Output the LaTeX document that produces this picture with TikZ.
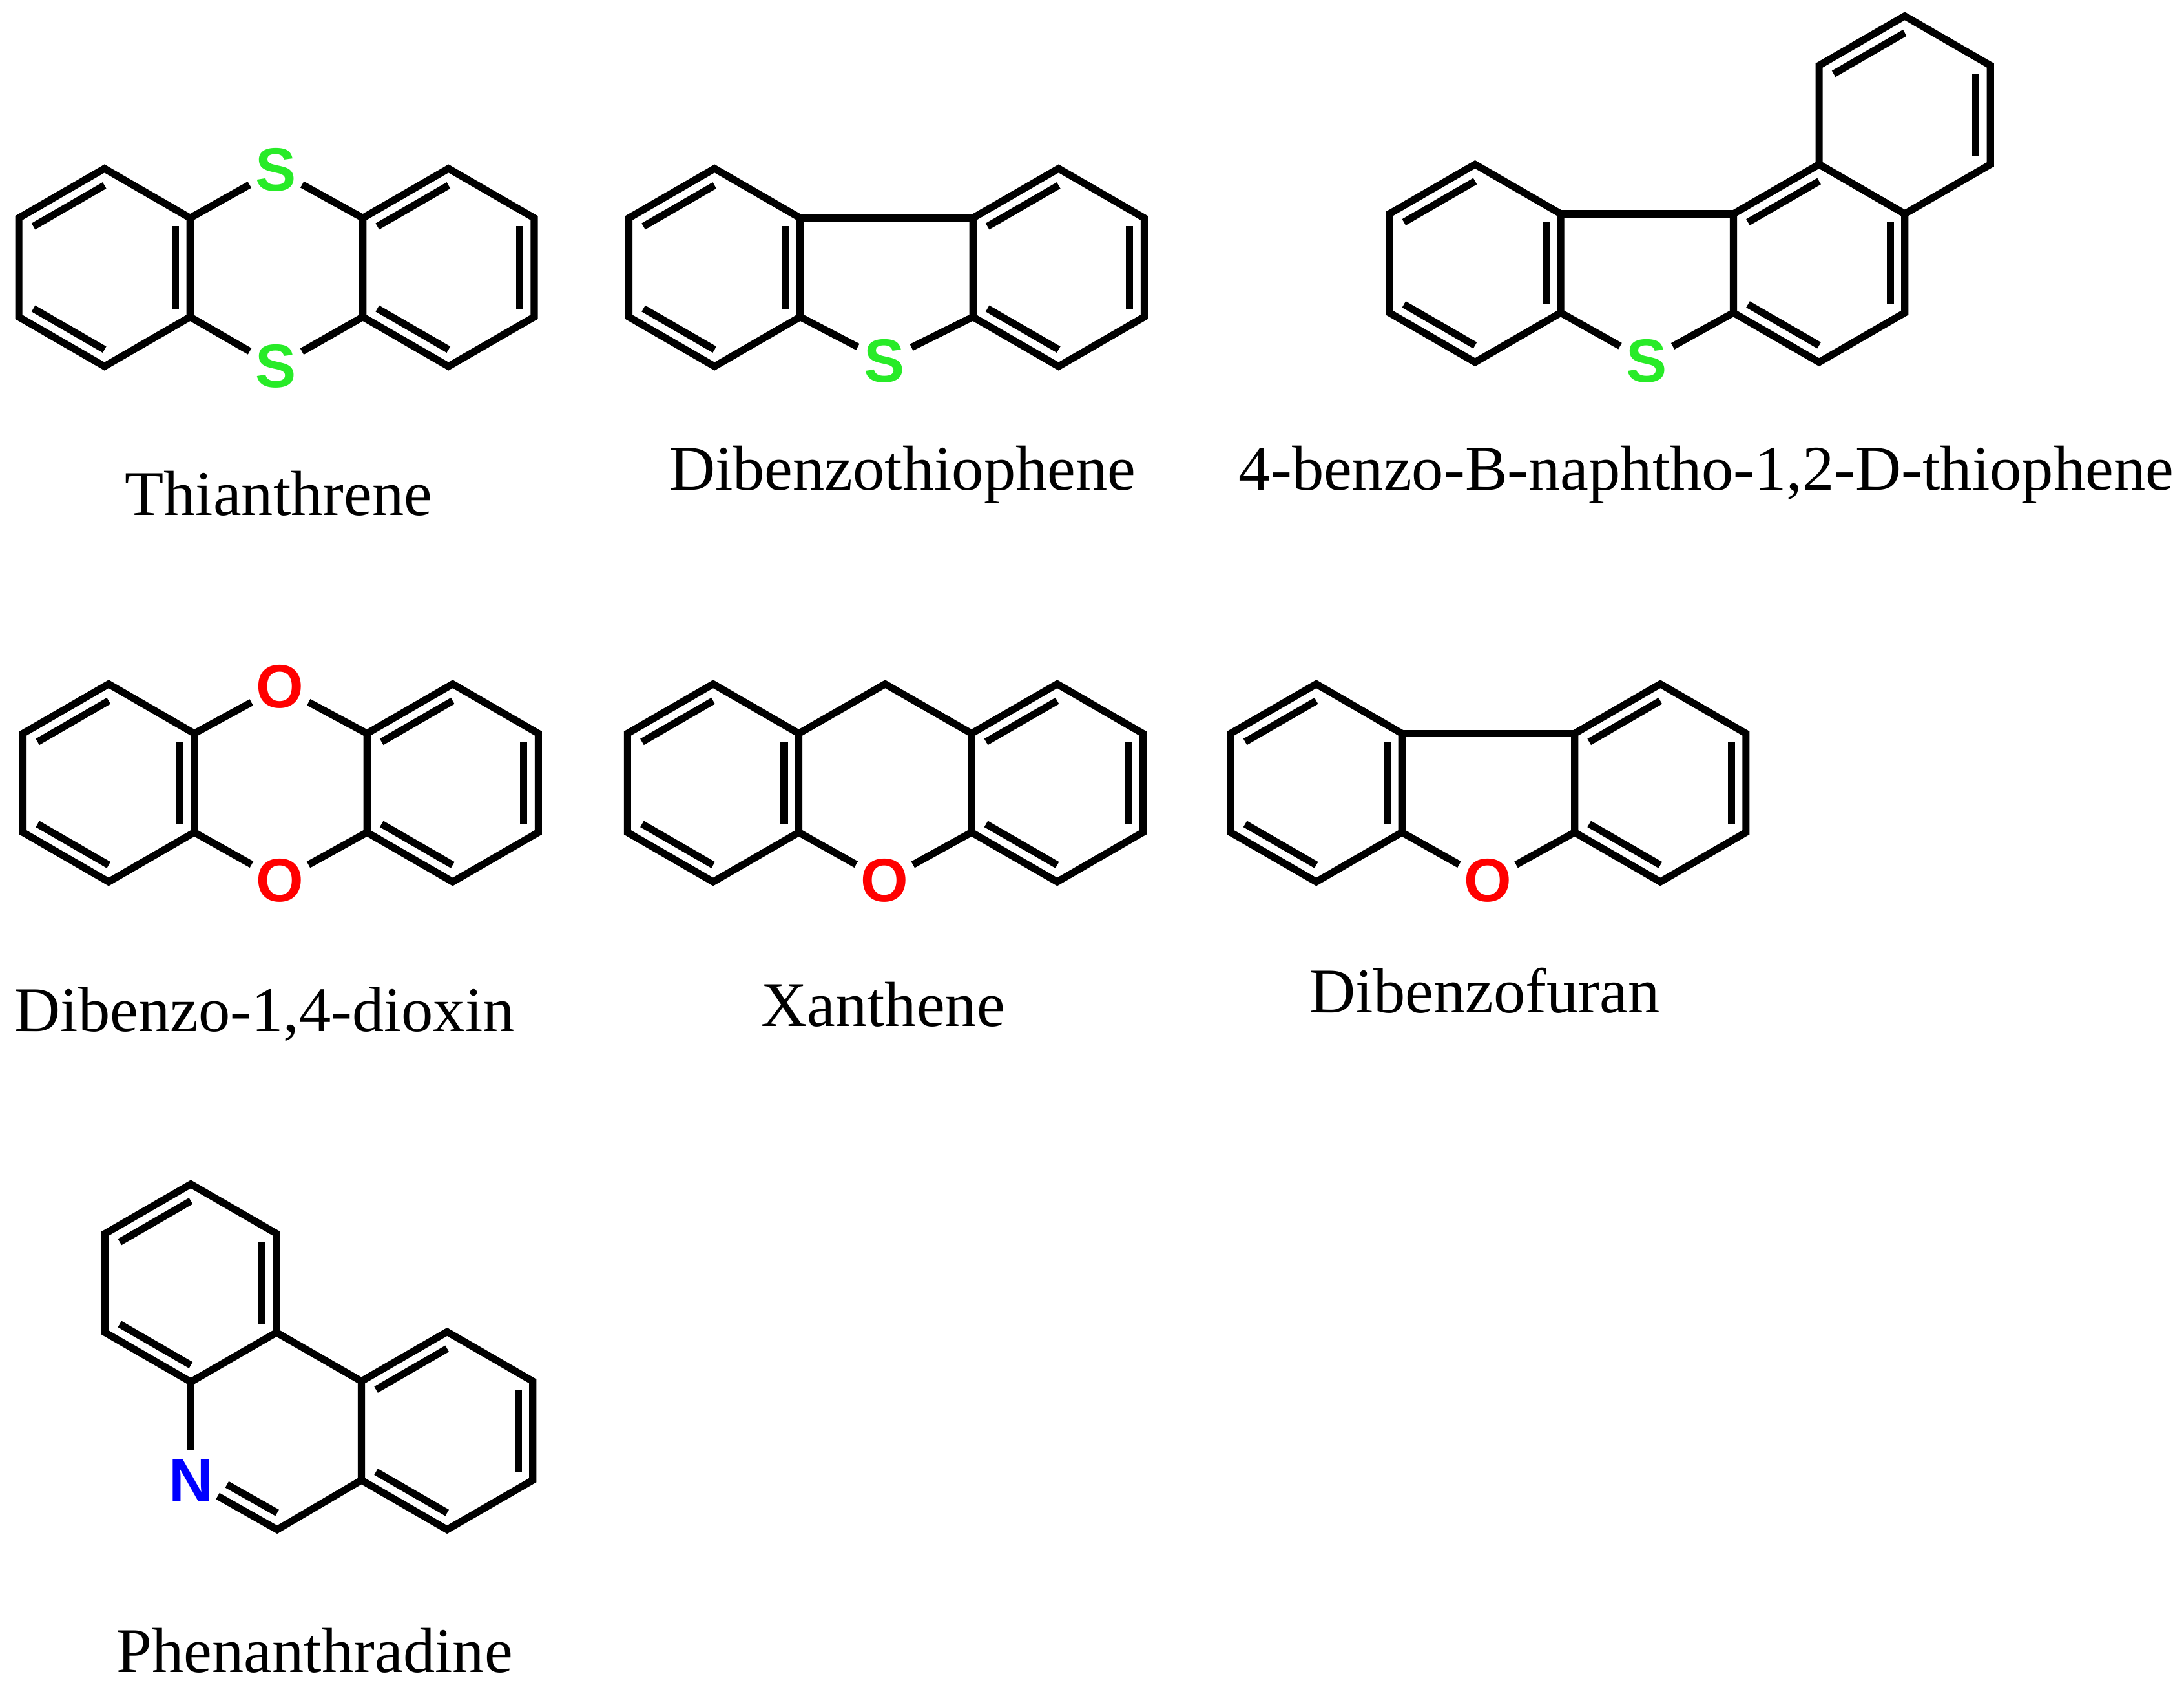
\documentclass[tikz,border=0pt]{standalone}
\usepackage{fontspec}
\setmainfont{Liberation Serif}
\newfontfamily\atomfont{Liberation Sans}
\usetikzlibrary{calc}
\definecolor{sgreen}{RGB}{40,235,40}
\tikzset{
  bond/.style={line width=2.95pt},
  atom/.style={circle,inner sep=0pt,minimum size=0.8cm,font=\atomfont\bfseries\fontsize{25}{25}\selectfont},
  lab/.style={font=\fontsize{26}{30}\selectfont,inner sep=0pt}
}
\newcommand\hring[3]{%
  \coordinate (#1) at (#2,#3);
  \coordinate (#1t) at ({#2},{#3-71});
  \coordinate (#1ur) at ({#2+61.5},{#3-35.5});
  \coordinate (#1lr) at ({#2+61.5},{#3+35.5});
  \coordinate (#1b) at ({#2},{#3+71});
  \coordinate (#1ll) at ({#2-61.5},{#3+35.5});
  \coordinate (#1ul) at ({#2-61.5},{#3-35.5});}
\newcommand\dbl[3]{\draw[bond] ($(#1#2)!0.17!(#1)$) -- ($(#1#3)!0.17!(#1)$);}
\newcommand\hexa[1]{\draw[bond] (#1t)--(#1ur)--(#1lr)--(#1b)--(#1ll)--(#1ul)--cycle;}
\newcommand\benz[1]{\hexa{#1}\dbl{#1}{ul}{t}\dbl{#1}{ur}{lr}\dbl{#1}{ll}{b}}
\begin{document}
\begin{tikzpicture}[x=0.02cm,y=-0.02cm]
\useasboundingbox (0,0) rectangle (1568,1208);
% Thianthrene
\hring{a}{75}{192}\hring{c}{322}{192}
\benz{a}\benz{c}
\node[atom,text=sgreen] (s1) at (198,122) {S};
\node[atom,text=sgreen] (s2) at (198,263) {S};
\draw[bond] (aur)--(s1)--(cul); \draw[bond] (alr)--(s2)--(cll);
\node[lab] (l1) at (200,354) {Thianthrene};
% Dibenzothiophene
\hring{d}{513}{192}\hring{e}{760}{192}
\benz{d}\benz{e}
\node[atom,text=sgreen] (s3) at (635,259) {S};
\draw[bond] (dlr)--(s3)--(ell); \draw[bond] (dur)--(eul);
\node[lab] (l2) at (648,341) {Dibenzothiophene};
% 4-benzo-B-naphtho
\hring{f}{1059}{189}\hring{g}{1306}{189}\hring{h}{1367.5}{82.5}
\benz{f}\benz{g}
\hexa{h}\dbl{h}{ul}{t}\dbl{h}{ur}{lr}
\node[atom,text=sgreen] (s4) at (1182,259) {S};
\draw[bond] (flr)--(s4)--(gll); \draw[bond] (fur)--(gul);
\node[lab] (l3) at (1225,341) {4-benzo-B-naphtho-1,2-D-thiophene};
% Dibenzo-1,4-dioxin
\hring{i}{78}{562}\hring{j}{325}{562}
\benz{i}\benz{j}
\node[atom,text=red] (o1) at (201,493) {O};
\node[atom,text=red] (o2) at (201,632) {O};
\draw[bond] (iur)--(o1)--(jul); \draw[bond] (ilr)--(o2)--(jll);
\node[lab] (l4) at (190,728) {Dibenzo-1,4-dioxin};
% Xanthene
\hring{k}{512}{562}\hring{m}{759}{562}
\benz{k}\benz{m}
\coordinate (ch2) at (635.5,491);
\node[atom,text=red] (o3) at (635,632) {O};
\draw[bond] (kur)--(ch2)--(mul); \draw[bond] (klr)--(o3)--(mll);
\node[lab] (l5) at (634,721) {Xanthene};
% Dibenzofuran
\hring{n}{945}{562}\hring{p}{1192}{562}
\benz{n}\benz{p}
\node[atom,text=red] (o4) at (1068,632) {O};
\draw[bond] (nlr)--(o4)--(pll); \draw[bond] (nur)--(pul);
\node[lab] (l6) at (1066,711) {Dibenzofuran};
% Phenanthridine
\hring{q}{137}{921}\hring{r}{321}{1027}
\benz{q}\benz{r}
\coordinate (mid) at (199,1027);
\coordinate (ch) at (199,1098);
\node[atom,text=blue] (n1) at (137,1063) {N};
\draw[bond] (qb)--(n1)--(ch)--(rll); \draw[bond] (qlr)--(rul);
\coordinate (p1) at ($(137,1063)!0.17!(mid)$);
\coordinate (p2) at ($(ch)!0.17!(mid)$);
\draw[bond] ($(p1)!0.3!(p2)$) -- (p2);
\node[lab] (l7) at (226,1185) {Phenanthradine};
\end{tikzpicture}
\end{document}
